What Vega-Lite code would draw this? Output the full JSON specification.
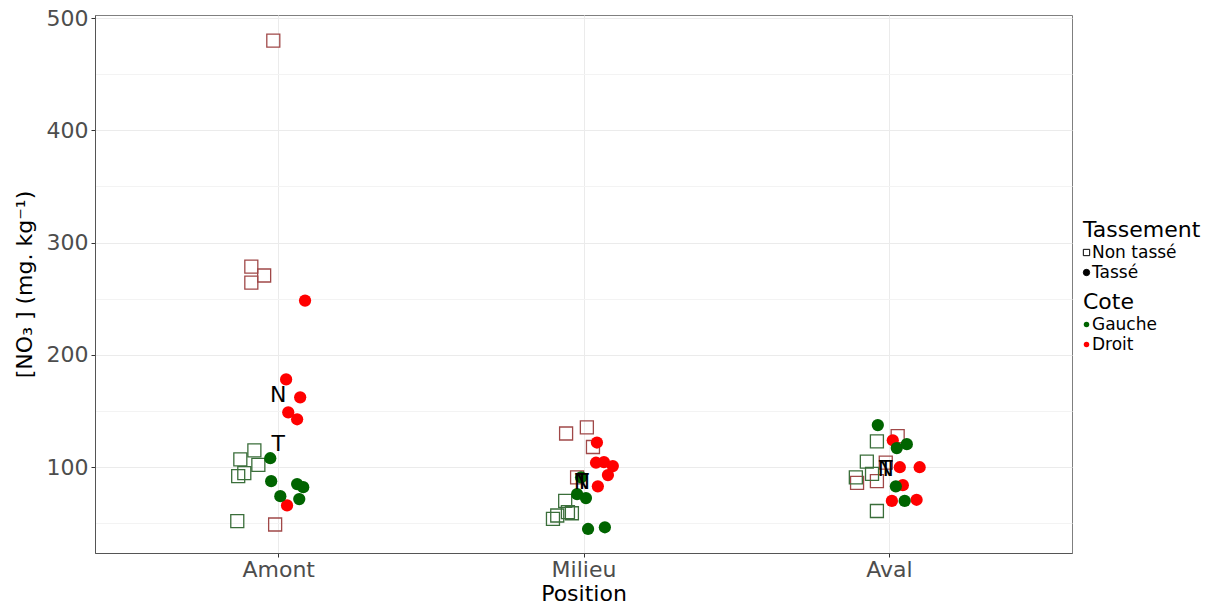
{
  "$schema": "https://vega.github.io/schema/vega-lite/v6.json",
  "width": 977,
  "height": 538,
  "autosize": {"type": "none"},
  "padding": {"left": 95, "top": 15, "right": 145, "bottom": 55},
  "background": "white",
  "config": {
    "font": "DejaVu Sans",
    "view": {"stroke": "#7f7f7f", "strokeWidth": 1},
    "axis": {
      "labelFont": "DejaVu Sans",
      "titleFont": "DejaVu Sans",
      "labelFontSize": 22,
      "labelColor": "#4d4d4d",
      "titleFontSize": 22,
      "titleFontWeight": "normal",
      "titleColor": "black",
      "tickColor": "#333333",
      "tickSize": 4,
      "domainColor": "#555555",
      "gridColor": "#ebebeb",
      "gridWidth": 1
    },
    "legend": {
      "orient": "none",
      "titleFont": "DejaVu Sans",
      "labelFont": "DejaVu Sans",
      "titleFontSize": 22,
      "titleFontWeight": "normal",
      "titleColor": "black",
      "labelFontSize": 17,
      "labelColor": "black",
      "symbolSize": 40,
      "symbolOpacity": 1,
      "rowPadding": 2,
      "titlePadding": 2,
      "labelOffset": -3,
      "symbolOffset": -5
    }
  },
  "datasets": {
    "pts": [
      {"Position": "Amont", "pos": 0.984, "value": 479.8, "Tassement": "Non tassé", "Cote": "Droit"},
      {"Position": "Amont", "pos": 0.912, "value": 278.7, "Tassement": "Non tassé", "Cote": "Droit"},
      {"Position": "Amont", "pos": 0.954, "value": 270.7, "Tassement": "Non tassé", "Cote": "Droit"},
      {"Position": "Amont", "pos": 0.912, "value": 264.4, "Tassement": "Non tassé", "Cote": "Droit"},
      {"Position": "Amont", "pos": 0.99, "value": 49, "Tassement": "Non tassé", "Cote": "Droit"},
      {"Position": "Amont", "pos": 0.922, "value": 115, "Tassement": "Non tassé", "Cote": "Gauche"},
      {"Position": "Amont", "pos": 0.876, "value": 107, "Tassement": "Non tassé", "Cote": "Gauche"},
      {"Position": "Amont", "pos": 0.935, "value": 102, "Tassement": "Non tassé", "Cote": "Gauche"},
      {"Position": "Amont", "pos": 0.889, "value": 94.7, "Tassement": "Non tassé", "Cote": "Gauche"},
      {"Position": "Amont", "pos": 0.869, "value": 92, "Tassement": "Non tassé", "Cote": "Gauche"},
      {"Position": "Amont", "pos": 0.866, "value": 52, "Tassement": "Non tassé", "Cote": "Gauche"},
      {"Position": "Amont", "pos": 1.088, "value": 248.4, "Tassement": "Tassé", "Cote": "Droit"},
      {"Position": "Amont", "pos": 1.026, "value": 178.2, "Tassement": "Tassé", "Cote": "Droit"},
      {"Position": "Amont", "pos": 1.072, "value": 162.2, "Tassement": "Tassé", "Cote": "Droit"},
      {"Position": "Amont", "pos": 1.033, "value": 148.9, "Tassement": "Tassé", "Cote": "Droit"},
      {"Position": "Amont", "pos": 1.062, "value": 142.7, "Tassement": "Tassé", "Cote": "Droit"},
      {"Position": "Amont", "pos": 1.029, "value": 66, "Tassement": "Tassé", "Cote": "Droit"},
      {"Position": "Amont", "pos": 0.974, "value": 108, "Tassement": "Tassé", "Cote": "Gauche"},
      {"Position": "Amont", "pos": 0.977, "value": 87.6, "Tassement": "Tassé", "Cote": "Gauche"},
      {"Position": "Amont", "pos": 1.007, "value": 74.2, "Tassement": "Tassé", "Cote": "Gauche"},
      {"Position": "Amont", "pos": 1.062, "value": 85, "Tassement": "Tassé", "Cote": "Gauche"},
      {"Position": "Amont", "pos": 1.082, "value": 82.2, "Tassement": "Tassé", "Cote": "Gauche"},
      {"Position": "Amont", "pos": 1.069, "value": 71.6, "Tassement": "Tassé", "Cote": "Gauche"},
      {"Position": "Milieu", "pos": 1.943, "value": 130, "Tassement": "Non tassé", "Cote": "Droit"},
      {"Position": "Milieu", "pos": 2.011, "value": 135.5, "Tassement": "Non tassé", "Cote": "Droit"},
      {"Position": "Milieu", "pos": 2.031, "value": 118, "Tassement": "Non tassé", "Cote": "Droit"},
      {"Position": "Milieu", "pos": 1.979, "value": 91, "Tassement": "Non tassé", "Cote": "Droit"},
      {"Position": "Milieu", "pos": 1.94, "value": 70, "Tassement": "Non tassé", "Cote": "Gauche"},
      {"Position": "Milieu", "pos": 1.914, "value": 57, "Tassement": "Non tassé", "Cote": "Gauche"},
      {"Position": "Milieu", "pos": 1.949, "value": 60, "Tassement": "Non tassé", "Cote": "Gauche"},
      {"Position": "Milieu", "pos": 1.962, "value": 59, "Tassement": "Non tassé", "Cote": "Gauche"},
      {"Position": "Milieu", "pos": 1.9, "value": 54, "Tassement": "Non tassé", "Cote": "Gauche"},
      {"Position": "Milieu", "pos": 2.044, "value": 122, "Tassement": "Tassé", "Cote": "Droit"},
      {"Position": "Milieu", "pos": 2.041, "value": 104, "Tassement": "Tassé", "Cote": "Droit"},
      {"Position": "Milieu", "pos": 2.067, "value": 104.5, "Tassement": "Tassé", "Cote": "Droit"},
      {"Position": "Milieu", "pos": 2.096, "value": 101, "Tassement": "Tassé", "Cote": "Droit"},
      {"Position": "Milieu", "pos": 2.08, "value": 93, "Tassement": "Tassé", "Cote": "Droit"},
      {"Position": "Milieu", "pos": 2.047, "value": 83, "Tassement": "Tassé", "Cote": "Droit"},
      {"Position": "Milieu", "pos": 1.992, "value": 91, "Tassement": "Tassé", "Cote": "Gauche"},
      {"Position": "Milieu", "pos": 1.979, "value": 76, "Tassement": "Tassé", "Cote": "Gauche"},
      {"Position": "Milieu", "pos": 2.008, "value": 72.5, "Tassement": "Tassé", "Cote": "Gauche"},
      {"Position": "Milieu", "pos": 2.015, "value": 45, "Tassement": "Tassé", "Cote": "Gauche"},
      {"Position": "Milieu", "pos": 2.07, "value": 46.5, "Tassement": "Tassé", "Cote": "Gauche"},
      {"Position": "Aval", "pos": 3.029, "value": 127.6, "Tassement": "Non tassé", "Cote": "Droit"},
      {"Position": "Aval", "pos": 2.99, "value": 104, "Tassement": "Non tassé", "Cote": "Droit"},
      {"Position": "Aval", "pos": 2.896, "value": 86, "Tassement": "Non tassé", "Cote": "Droit"},
      {"Position": "Aval", "pos": 2.961, "value": 87.6, "Tassement": "Non tassé", "Cote": "Droit"},
      {"Position": "Aval", "pos": 2.961, "value": 123, "Tassement": "Non tassé", "Cote": "Gauche"},
      {"Position": "Aval", "pos": 2.928, "value": 105, "Tassement": "Non tassé", "Cote": "Gauche"},
      {"Position": "Aval", "pos": 2.892, "value": 91, "Tassement": "Non tassé", "Cote": "Gauche"},
      {"Position": "Aval", "pos": 2.945, "value": 94, "Tassement": "Non tassé", "Cote": "Gauche"},
      {"Position": "Aval", "pos": 2.961, "value": 61, "Tassement": "Non tassé", "Cote": "Gauche"},
      {"Position": "Aval", "pos": 3.013, "value": 124, "Tassement": "Tassé", "Cote": "Droit"},
      {"Position": "Aval", "pos": 3.036, "value": 100, "Tassement": "Tassé", "Cote": "Droit"},
      {"Position": "Aval", "pos": 3.101, "value": 100, "Tassement": "Tassé", "Cote": "Droit"},
      {"Position": "Aval", "pos": 3.046, "value": 84, "Tassement": "Tassé", "Cote": "Droit"},
      {"Position": "Aval", "pos": 3.01, "value": 70, "Tassement": "Tassé", "Cote": "Droit"},
      {"Position": "Aval", "pos": 3.091, "value": 71, "Tassement": "Tassé", "Cote": "Droit"},
      {"Position": "Aval", "pos": 2.964, "value": 137.5, "Tassement": "Tassé", "Cote": "Gauche"},
      {"Position": "Aval", "pos": 3.026, "value": 117, "Tassement": "Tassé", "Cote": "Gauche"},
      {"Position": "Aval", "pos": 3.059, "value": 120.5, "Tassement": "Tassé", "Cote": "Gauche"},
      {"Position": "Aval", "pos": 3.023, "value": 83, "Tassement": "Tassé", "Cote": "Gauche"},
      {"Position": "Aval", "pos": 3.052, "value": 70, "Tassement": "Tassé", "Cote": "Gauche"}
    ],
    "labels": [
      {"Position": "Amont", "pos": 1.0, "value": 164, "label": "N"},
      {"Position": "Amont", "pos": 1.0, "value": 121, "label": "T"},
      {"Position": "Milieu", "pos": 1.995, "value": 87, "label": "N"},
      {"Position": "Milieu", "pos": 1.995, "value": 87, "label": "T"},
      {"Position": "Aval", "pos": 2.99, "value": 98, "label": "N"},
      {"Position": "Aval", "pos": 2.99, "value": 98, "label": "T"}
    ]
  },
  "resolve": {"scale": {"color": "independent"}, "legend": {"color": "independent"}},
  "encoding": {
    "x": {
      "field": "pos",
      "type": "quantitative",
      "scale": {"domain": [0.4, 3.6], "nice": false, "zero": false},
      "axis": {
        "title": "Position",
        "values": [1, 2, 3],
        "labelExpr": "['Amont','Milieu','Aval'][datum.value - 1]",
        "labelPadding": 2,
        "titlePadding": 3
      }
    },
    "y": {
      "field": "value",
      "type": "quantitative",
      "scale": {"domain": [23.6, 502.7], "nice": false, "zero": false},
      "axis": {
        "title": "[NO₃ ] (mg. kg⁻¹)",
        "values": [50, 100, 150, 200, 250, 300, 350, 400, 450, 500],
        "labelExpr": "datum.value % 100 === 0 ? datum.label : ''",
        "tickOpacity": {"condition": {"test": "datum.value % 100 !== 0", "value": 0}, "value": 1},
        "gridColor": {"condition": {"test": "datum.value % 100 !== 0", "value": "#f3f3f3"}, "value": "#ebebeb"},
        "labelPadding": 3,
        "titlePadding": 10
      }
    }
  },
  "layer": [
    {
      "data": {"name": "pts"},
      "transform": [{"filter": "datum.Tassement === 'Non tassé'"}],
      "mark": {"type": "point", "filled": false, "size": 169, "strokeWidth": 1.3, "opacity": 1},
      "encoding": {
        "shape": {
          "field": "Tassement",
          "type": "nominal",
          "scale": {"domain": ["Non tassé", "Tassé"], "range": ["square", "circle"]},
          "legend": {
            "title": "Tassement",
            "legendX": 988,
            "legendY": 205,
            "symbolSize": 40,
            "symbolStrokeColor": "black",
            "symbolStrokeWidth": 1,
            "encode": {"symbols": {"update": {"stroke": {"value": "black"}, "strokeWidth": {"value": 1}, "opacity": {"value": 1}}}}
          }
        },
        "fill": {
          "field": "Tassement",
          "type": "nominal",
          "scale": {"domain": ["Non tassé", "Tassé"], "range": ["transparent", "black"]},
          "legend": {
            "title": "Tassement",
            "legendX": 988,
            "legendY": 205,
            "symbolSize": 40,
            "symbolStrokeColor": "black",
            "symbolStrokeWidth": 1,
            "encode": {"symbols": {"update": {"stroke": {"value": "black"}, "strokeWidth": {"value": 1}, "opacity": {"value": 1}}}}
          }
        },
        "color": {
          "field": "Cote",
          "type": "nominal",
          "scale": {"domain": ["Gauche", "Droit"], "range": ["#3a6e3a", "#a04848"]},
          "legend": null
        }
      }
    },
    {
      "data": {"name": "pts"},
      "transform": [{"filter": "datum.Tassement === 'Tassé'"}],
      "mark": {"type": "point", "shape": "circle", "filled": true, "size": 150, "opacity": 1},
      "encoding": {
        "color": {
          "field": "Cote",
          "type": "nominal",
          "scale": {"domain": ["Gauche", "Droit"], "range": ["#006400", "#ff0000"]},
          "legend": {"title": "Cote", "legendX": 988, "legendY": 277, "symbolType": "circle", "symbolSize": 30}
        }
      }
    },
    {
      "data": {"name": "labels"},
      "mark": {"type": "text", "font": "DejaVu Sans", "fontSize": 22, "color": "black", "baseline": "middle", "align": "center"},
      "encoding": {"text": {"field": "label"}}
    }
  ]
}
